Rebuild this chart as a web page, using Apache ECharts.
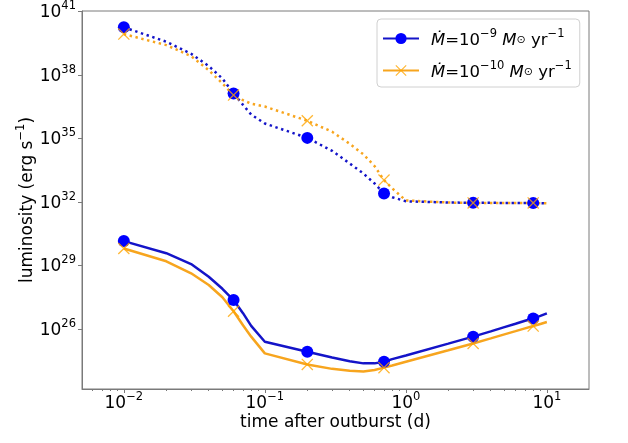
<!DOCTYPE html>
<html><head><meta charset="utf-8">
<script src="https://cdn.jsdelivr.net/npm/echarts@6/dist/echarts.min.js"></script>
<style>html,body{margin:0;padding:0;background:#fff}#c{width:628px;height:443px}</style>
</head><body><div id="c"></div>
<script>
// ---- data ----
const timeDays = [0.01,0.02,0.03,0.04,0.05,0.06,0.07,0.08,0.1,0.2,0.3,0.4,0.5,0.6,0.7,0.8,1,2,3,4,5,6,7,8,9,10];
const markerTimes = [0.01,0.06,0.2,0.7,3,8];
const lumM9Upper = [1.74e40,3.63e39,9.77e38,2.57e38,6.61e37,1.32e37,3.80e36,1.32e36,5.01e35,1.05e35,2.57e34,6.46e33,2.19e33,7.41e32,2.51e32,1.66e32,1.07e32,9.33e31,9.12e31,9.12e31,8.91e31,8.91e31,8.91e31,8.91e31,8.71e31,8.51e31];
const lumM10Upper = [8.32e39,2.51e39,7.59e38,1.66e38,3.89e37,1.10e37,6.31e36,4.27e36,3.16e36,6.76e35,2.04e35,5.50e34,1.74e34,4.90e33,1.07e33,4.37e32,1.17e32,9.33e31,8.91e31,8.91e31,8.91e31,8.91e31,8.91e31,8.91e31,8.71e31,8.51e31];
const lumM9Lower = [1.41e30,3.80e29,1.17e29,2.95e28,7.94e27,2.34e27,5.62e26,1.41e26,2.51e25,8.51e24,4.57e24,3.02e24,2.40e24,2.40e24,2.88e24,3.80e24,5.62e24,2.04e25,4.37e25,7.76e25,1.23e26,1.78e26,2.45e26,3.16e26,4.17e26,5.50e26];
const lumM10Lower = [6.31e29,1.58e29,4.27e28,1.20e28,3.16e27,6.92e26,1.51e26,4.37e25,7.08e24,2.14e24,1.32e24,1.07e24,1.00e24,1.17e24,1.51e24,1.91e24,2.88e24,1.00e25,2.09e25,3.63e25,5.62e25,7.94e25,1.07e26,1.38e26,1.74e26,2.14e26];
const xMajorTicks = [0.01,0.1,1,10];
const xMinorTicks = [0.006,0.007,0.008,0.009,0.02,0.03,0.04,0.05,0.06,0.07,0.08,0.09,0.2,0.3,0.4,0.5,0.6,0.7,0.8,0.9,2,3,4,5,6,7,8,9];
const yMajorTicks = [1e26,1e29,1e32,1e35,1e38,1e41];
const seriesNames = ['m9','m10'];
const legendLabels = {
  m9:  '{gap|}{i|Ṁ}{n|=10}{s|−9}{n| }{i|M}{o|⊙}{n| yr}{s|−1}',
  m10: '{gap|}{i|Ṁ}{n|=10}{s|−10}{n| }{i|M}{o|⊙}{n| yr}{s|−1}'
};
const xAxisName = 'time after outburst (d)';
const yAxisName = '{n|luminosity (erg s}{s|−1}{n|)}';

// ---- styling ----
const FONT = 'DejaVu Sans';
const AXIS_GRAY = '#7a7a7a';
const BLUE_LINE = '#1414c8', BLUE_MARK = '#0000ff';
const ORANGE_LINE = '#f7a51e', ORANGE_MARK = 'rgba(255,165,0,0.8)';
const X_SYMBOL = 'path://M1.5,0 L10,8.5 L18.5,0 L20,1.5 L11.5,10 L20,18.5 L18.5,20 L10,11.5 L1.5,20 L0,18.5 L8.5,10 L0,1.5 Z';

function expLabel(v){
  const e = Math.round(Math.log10(v));
  return '{b|10}{s|' + (e < 0 ? '−' + (-e) : e) + '}';
}
const tickRich = {
  b: {fontSize: 17, fontFamily: FONT, color: '#000', lineHeight: 20, verticalAlign: 'bottom'},
  s: {fontSize: 11.5, fontFamily: FONT, color: '#000', lineHeight: 11.5, padding: [0,0,9,0], verticalAlign: 'bottom'}
};
function buildData(lums){
  return timeDays.map((t,i) => markerTimes.indexOf(t) >= 0 ? [t, lums[i]] : {value: [t, lums[i]], symbol: 'none'});
}
function lineSeries(name, lums, lineColor, markColor, symbol, dotted){
  return {
    type: 'line', name: name, data: buildData(lums),
    symbol: symbol, symbolSize: 12, showSymbol: true,
    itemStyle: {color: markColor},
    lineStyle: {color: lineColor, width: 2.5, type: dotted ? [2.4, 3.6] : 'solid', cap: 'butt'},
    emphasis: {disabled: true}, animation: false
  };
}
const xCommon = {type: 'log', logBase: 10, min: 0.00505, max: 19.9, gridIndex: 0, position: 'bottom'};

const option = {
  animation: false,
  backgroundColor: '#fff',
  grid: {left: 82, right: 39, top: 11, bottom: 54, containLabel: false, outerBoundsMode: 'none',
         show: true, borderColor: AXIS_GRAY, borderWidth: 1, backgroundColor: 'transparent'},
  legend: {
    data: seriesNames, orient: 'vertical', left: 377, top: 19,
    padding: [9, 8, 6, 5], itemGap: 11, itemWidth: 36, itemHeight: 14,
    backgroundColor: 'rgba(255,255,255,0.85)', borderColor: '#d0d0d0', borderWidth: 1, borderRadius: 4,
    selectedMode: false,
    formatter: n => legendLabels[n],
    textStyle: {
      fontFamily: FONT, fontSize: 16.5, color: '#000',
      rich: {
        gap: {width: 7},
        n: {fontSize: 16.5, fontFamily: FONT, color: '#000', lineHeight: 21, verticalAlign: 'bottom'},
        i: {fontSize: 16.5, fontFamily: FONT, fontStyle: 'italic', color: '#000', lineHeight: 21, verticalAlign: 'bottom'},
        s: {fontSize: 11.5, fontFamily: FONT, color: '#000', lineHeight: 11.5, padding: [0,0,9,0], verticalAlign: 'bottom'},
        o: {fontSize: 11, fontFamily: FONT, color: '#000', lineHeight: 11, padding: [0,0,3,0], verticalAlign: 'bottom'}
      }
    }
  },
  xAxis: [
    Object.assign({}, xCommon, {
      name: xAxisName, nameLocation: 'middle', nameGap: 25.5, nameMoveOverlap: false,
      nameTextStyle: {fontFamily: FONT, fontSize: 17, color: '#000', verticalAlign: 'top'},
      axisLine: {show: true, lineStyle: {color: AXIS_GRAY, width: 1}},
      axisTick: {show: true, customValues: xMajorTicks, length: 4, inside: false, lineStyle: {color: AXIS_GRAY, width: 1}},
      axisLabel: {show: true, customValues: xMajorTicks, margin: 3, formatter: expLabel, rich: tickRich, hideOverlap: false},
      splitLine: {show: false}, minorTick: {show: false}
    }),
    Object.assign({}, xCommon, {
      axisLine: {show: false},
      axisTick: {show: true, customValues: xMinorTicks, length: 2, lineStyle: {color: AXIS_GRAY, width: 1}},
      axisLabel: {show: false},
      splitLine: {show: false}
    })
  ],
  yAxis: {
    type: 'log', logBase: 10, min: 1.48e23, max: 1.02e41,
    name: yAxisName, nameLocation: 'middle', nameGap: 46, nameRotate: 90, nameMoveOverlap: false,
    nameTextStyle: {fontFamily: FONT, fontSize: 17, color: '#000', rich: {
      n: {fontSize: 17, fontFamily: FONT, color: '#000', lineHeight: 20, verticalAlign: 'bottom'},
      s: {fontSize: 11.5, fontFamily: FONT, color: '#000', lineHeight: 11.5, padding: [0,0,9,0], verticalAlign: 'bottom'}
    }},
    axisLine: {show: true, lineStyle: {color: AXIS_GRAY, width: 1}},
    axisTick: {show: true, customValues: yMajorTicks, length: 4, lineStyle: {color: AXIS_GRAY, width: 1}},
    axisLabel: {show: true, customValues: yMajorTicks, margin: 6, formatter: expLabel, rich: tickRich, hideOverlap: false},
    splitLine: {show: false}, minorTick: {show: false}
  },
  series: [
    lineSeries('m9', lumM9Lower, BLUE_LINE, BLUE_MARK, 'circle', false),
    lineSeries('m9', lumM9Upper, BLUE_LINE, BLUE_MARK, 'circle', true),
    lineSeries('m10', lumM10Lower, ORANGE_LINE, ORANGE_MARK, X_SYMBOL, false),
    lineSeries('m10', lumM10Upper, ORANGE_LINE, ORANGE_MARK, X_SYMBOL, true)
  ]
};
const chart = echarts.init(document.getElementById('c'), null, {renderer: 'canvas'});
chart.setOption(option);
</script>
</body></html>
